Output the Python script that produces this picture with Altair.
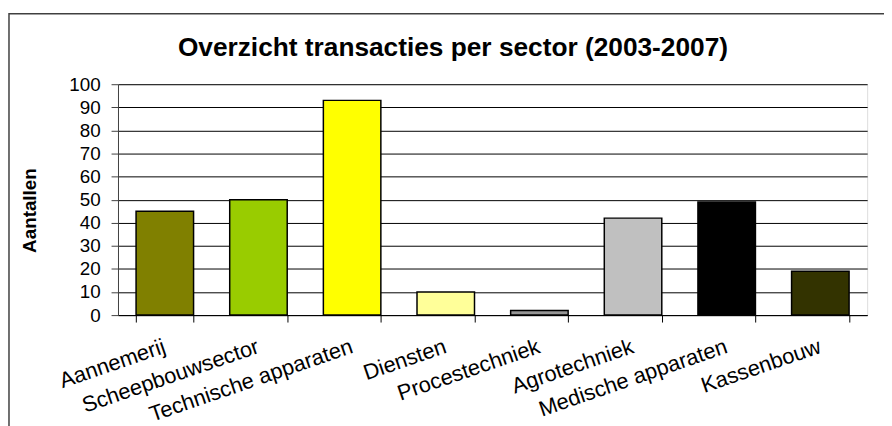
import altair as alt
import pandas as pd

sectors = ["Aannemerij", "Scheepbouwsector", "Technische apparaten", "Diensten",
           "Procestechniek", "Agrotechniek", "Medische apparaten", "Kassenbouw"]
counts = [45, 50, 93, 10, 2, 42, 49, 19]
colors = ["#808000", "#99CC00", "#FFFF00", "#FFFF99",
          "#969696", "#C0C0C0", "#000000", "#333300"]
y_ticks = list(range(0, 101, 10))
title_text = "Overzicht transacties per sector (2003-2007)"

df = pd.DataFrame({"sector": sectors, "count": counts})

FONT = "Liberation Sans"
W, H = 756, 233
PL, PT = 111, 75
TOTAL_W, TOTAL_H = 884, 418

bars = alt.Chart(df).mark_bar(stroke="#000000", strokeWidth=1.5).encode(
    x=alt.X("sector:N", sort=sectors,
            scale=alt.Scale(paddingInner=0.386, paddingOuter=0.193),
            axis=alt.Axis(title=None, labelAngle=341, labelAlign="right",
                          labelBaseline="top", labelFontSize=22, labelFont=FONT,
                          labelColor="#000000", labelPadding=14, labelOffset=-4,
                          labelLimit=0,
                          tickBand="extent", tickSize=7, tickColor="#000000",
                          domainColor="#000000", grid=False, labelOverlap=False)),
    y=alt.Y("count:Q", scale=alt.Scale(domain=[0, 100], nice=False),
            axis=alt.Axis(title="Aantallen", values=y_ticks, titleFont=FONT,
                          titleFontSize=19, titleFontWeight="bold",
                          titleColor="#000000", titleAngle=270,
                          titleX=-89, titleY=127, titleAlign="center",
                          titleBaseline="middle",
                          labelFontSize=19, labelFont=FONT, labelColor="#000000",
                          labelPadding=11, tickSize=7, tickColor="#404040",
                          domainColor="#404040", gridColor="#000000",
                          gridOpacity=1, gridWidth=1)),
    color=alt.Color("sector:N", sort=sectors,
                    scale=alt.Scale(domain=sectors, range=colors), legend=None),
)

one = pd.DataFrame({"b": [0]})

border = alt.Chart(one).mark_rect(
    fill=None, stroke="#404040", strokeWidth=1.5
).encode(
    x=alt.value(1 - PL), x2=alt.value(TOTAL_W - PL + 20),
    y=alt.value(4 - PT), y2=alt.value(TOTAL_H - PT + 20),
)

title = alt.Chart(one).mark_text(
    text=title_text, font=FONT, fontSize=26.5, fontWeight="bold",
    color="#000000", align="center", baseline="alphabetic"
).encode(x=alt.value(449 - PL), y=alt.value(47 - PT))

chart = alt.layer(bars, border, title).properties(
    width=W, height=H,
    autosize=alt.AutoSizeParams(type="none"),
    padding={"left": PL, "top": PT, "right": TOTAL_W - PL - W,
             "bottom": TOTAL_H - PT - H},
).configure_view(stroke="#404040", strokeWidth=1).configure(background="white")

chart.save("out.html", embed_options={"renderer": "svg", "actions": False})
